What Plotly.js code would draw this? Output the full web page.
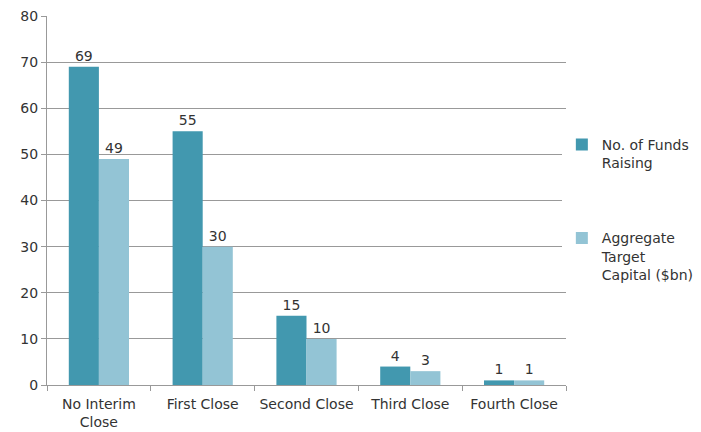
<!DOCTYPE html>
<html>
<head>
<meta charset="utf-8">
<script src="https://cdn.plot.ly/plotly-3.0.1.min.js"></script>
<style>html,body{margin:0;padding:0;background:#fff;}#chart{width:701px;height:432px;}</style>
</head>
<body>
<div id="chart"></div>
<script>
var categories = ["No Interim<br>Close", "First Close", "Second Close", "Third Close", "Fourth Close"];
var seriesNames = ["No. of Funds<br>Raising", "Aggregate<br>Target<br>Capital ($bn)"];
var fundsRaising = [69, 55, 15, 4, 1];
var targetCapital = [49, 30, 10, 3, 1];
var yTicks = [0, 10, 20, 30, 40, 50, 60, 70, 80];

var FONT = "DejaVu Sans, sans-serif";
var colors = ["#4298AF", "#93C4D5"];
var series = [fundsRaising, targetCapital];

var data = series.map(function (vals, i) {
  return {
    type: "bar",
    x: categories,
    y: vals,
    name: seriesNames[i],
    legendgroup: "g" + i,
    marker: { color: colors[i] },
    text: vals.map(String),
    textposition: "outside",
    cliponaxis: false,
    textfont: { family: FONT, size: 14, color: "#333" }
  };
});

var layout = {
  width: 701,
  height: 432,
  margin: { l: 47, r: 135, t: 16, b: 47, autoexpand: false },
  paper_bgcolor: "#fff",
  plot_bgcolor: "#fff",
  font: { family: FONT, size: 14, color: "#333" },
  barmode: "group",
  bargap: 0.42,
  bargroupgap: 0,
  showlegend: true,
  legend: {
    x: 0.992, y: 0.694, xanchor: "left", yanchor: "top",
    traceorder: "grouped",
    tracegroupgap: 54,
    valign: "top",
    itemwidth: 30,
    font: { family: FONT, size: 14, color: "#333" }
  },
  xaxis: {
    type: "category",
    showline: true, linecolor: "#999", linewidth: 1,
    ticks: "outside", tickson: "boundaries", ticklen: 5, tickcolor: "#999",
    ticklabelstandoff: 6,
    showgrid: false, zeroline: false,
    tickfont: { family: FONT, size: 14, color: "#333" }
  },
  yaxis: {
    range: [0, 80],
    tickvals: yTicks,
    showline: true, linecolor: "#999", linewidth: 1,
    ticks: "outside", ticklen: 5, tickcolor: "#999",
    showgrid: true, gridcolor: "#999", gridwidth: 1,
    zeroline: false,
    tickfont: { family: FONT, size: 14, color: "#333" }
  }
};

Plotly.newPlot("chart", data, layout, { displayModeBar: false, staticPlot: true });
</script>
</body>
</html>
